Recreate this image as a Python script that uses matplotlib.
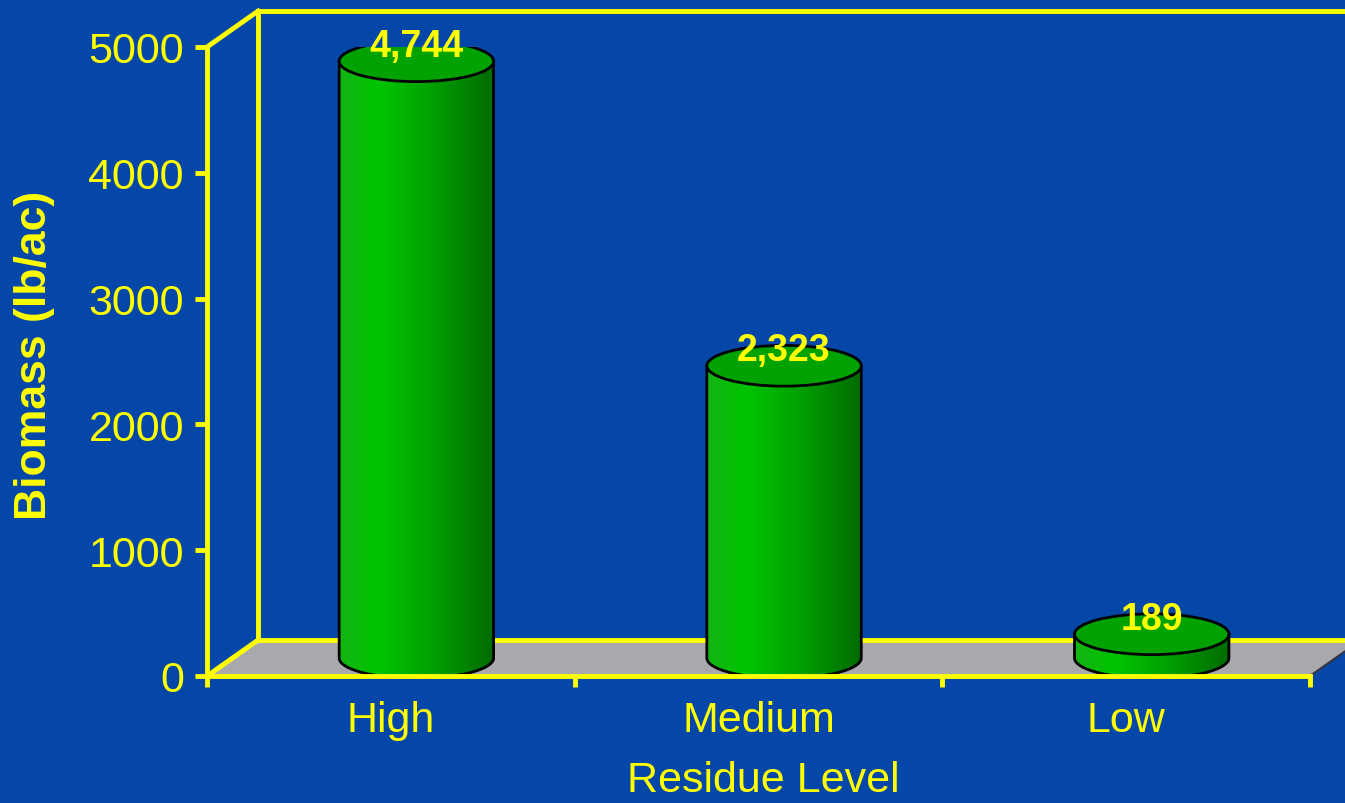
import numpy as np
import matplotlib.pyplot as plt
from matplotlib.patches import Ellipse, Polygon
from matplotlib.colors import LinearSegmentedColormap

plt.rcParams['font.family'] = ['Liberation Sans', 'DejaVu Sans']

categories = ["High", "Medium", "Low"]
biomass = [4744, 2323, 189]
value_labels = ["4,744", "2,323", "189"]
y_ticks = [0, 1000, 2000, 3000, 4000, 5000]

BG = "#0547a8"
YELLOW = "#ffff00"
FLOOR = "#a9a9ad"

# fake 3d depth, in data units
dx = 0.139
dy = 286
bar_w = 0.42
ry = 162

green = LinearSegmentedColormap.from_list(
    "cyl", ["#14b414", "#00c400", "#00ac00", "#008c00", "#006a00"])

fig = plt.figure(figsize=(13.45, 8.04), dpi=100, facecolor=BG)
ax = fig.add_axes([207/1345, 127/804, 1103/1345, 629/804])
ax.patch.set_alpha(0)
ncat = len(categories)
ymax = y_ticks[-1]

# floor and back wall
ax.add_patch(Polygon([(0, 0), (ncat, 0), (ncat + dx, dy), (dx, dy)],
                     closed=True, fc=FLOOR, ec='none', zorder=1, clip_on=False))
wall = dict(color=YELLOW, lw=3.5, zorder=1.2, clip_on=False, solid_capstyle='projecting')
ax.plot([dx, dx], [dy, ymax + dy], **wall)
ax.plot([dx, ncat + 2 * dx], [ymax + dy, ymax + dy], **wall)
ax.plot([dx, ncat + 2 * dx], [dy, dy], **wall)
ax.plot([0, dx], [0, dy], **wall)
ax.plot([0, dx], [ymax, ymax + dy], **wall)
ax.plot([ncat, ncat + dx], [0, dy], color='#333344', lw=1.5, zorder=1.1, clip_on=False)

# cylinders
for i, v in enumerate(biomass):
    cx = i + 0.5 + dx / 2
    ybot = dy / 2
    ytop = v + dy / 2
    t = np.linspace(np.pi, 2 * np.pi, 80)
    arc = np.column_stack([cx + bar_w / 2 * np.cos(t), ybot + ry * np.sin(t)])
    pts = np.vstack([[cx - bar_w / 2, ytop], arc, [cx + bar_w / 2, ytop]])
    body = Polygon(pts, closed=True, fc='none', ec='black', lw=2, zorder=2.2)
    ax.add_patch(body)
    im = ax.imshow(np.linspace(0, 1, 256).reshape(1, -1), cmap=green, aspect='auto',
                   extent=[cx - bar_w / 2, cx + bar_w / 2, ybot - ry, ytop],
                   zorder=2.1, interpolation='bilinear')
    im.set_clip_path(body)
    ax.add_patch(Ellipse((cx, ytop), bar_w, 2 * ry, fc='#00a200', ec='black',
                         lw=2, zorder=2.3))
    ax.text(cx, v + dy - 20, value_labels[i], ha='center', va='center', color=YELLOW,
            fontsize=27, fontweight='bold', zorder=3)

ax.set_xlim(0, ncat)
ax.set_ylim(0, ymax)

for s in ['top', 'right']:
    ax.spines[s].set_visible(False)
for s in ['left', 'bottom']:
    ax.spines[s].set_color(YELLOW)
    ax.spines[s].set_linewidth(3.5)
    ax.spines[s].set_zorder(2.5)

ax.set_yticks(y_ticks)
ax.tick_params(axis='y', colors=YELLOW, labelsize=31, direction='out',
               length=8.6, width=3.5, pad=8)
ax.set_xticks(range(ncat + 1))
ax.set_xticklabels([])
ax.set_xticks(np.arange(ncat) + 0.5, minor=True)
ax.set_xticklabels(categories, minor=True)
ax.tick_params(axis='x', which='major', colors=YELLOW, direction='out',
               length=8, width=3.5)
ax.tick_params(axis='x', which='minor', length=0, pad=17, labelsize=31,
               labelcolor=YELLOW)

fig.text(35 / 1345, 1 - 355 / 804, "Biomass (lb/ac)", rotation=90, color=YELLOW,
         fontsize=32, fontweight='bold', ha='center', va='center')
fig.text(763 / 1345, 1 - 781 / 804, "Residue Level", color=YELLOW, fontsize=31,
         ha='center', va='center')

fig.savefig("out.png", dpi=100, facecolor=BG)
